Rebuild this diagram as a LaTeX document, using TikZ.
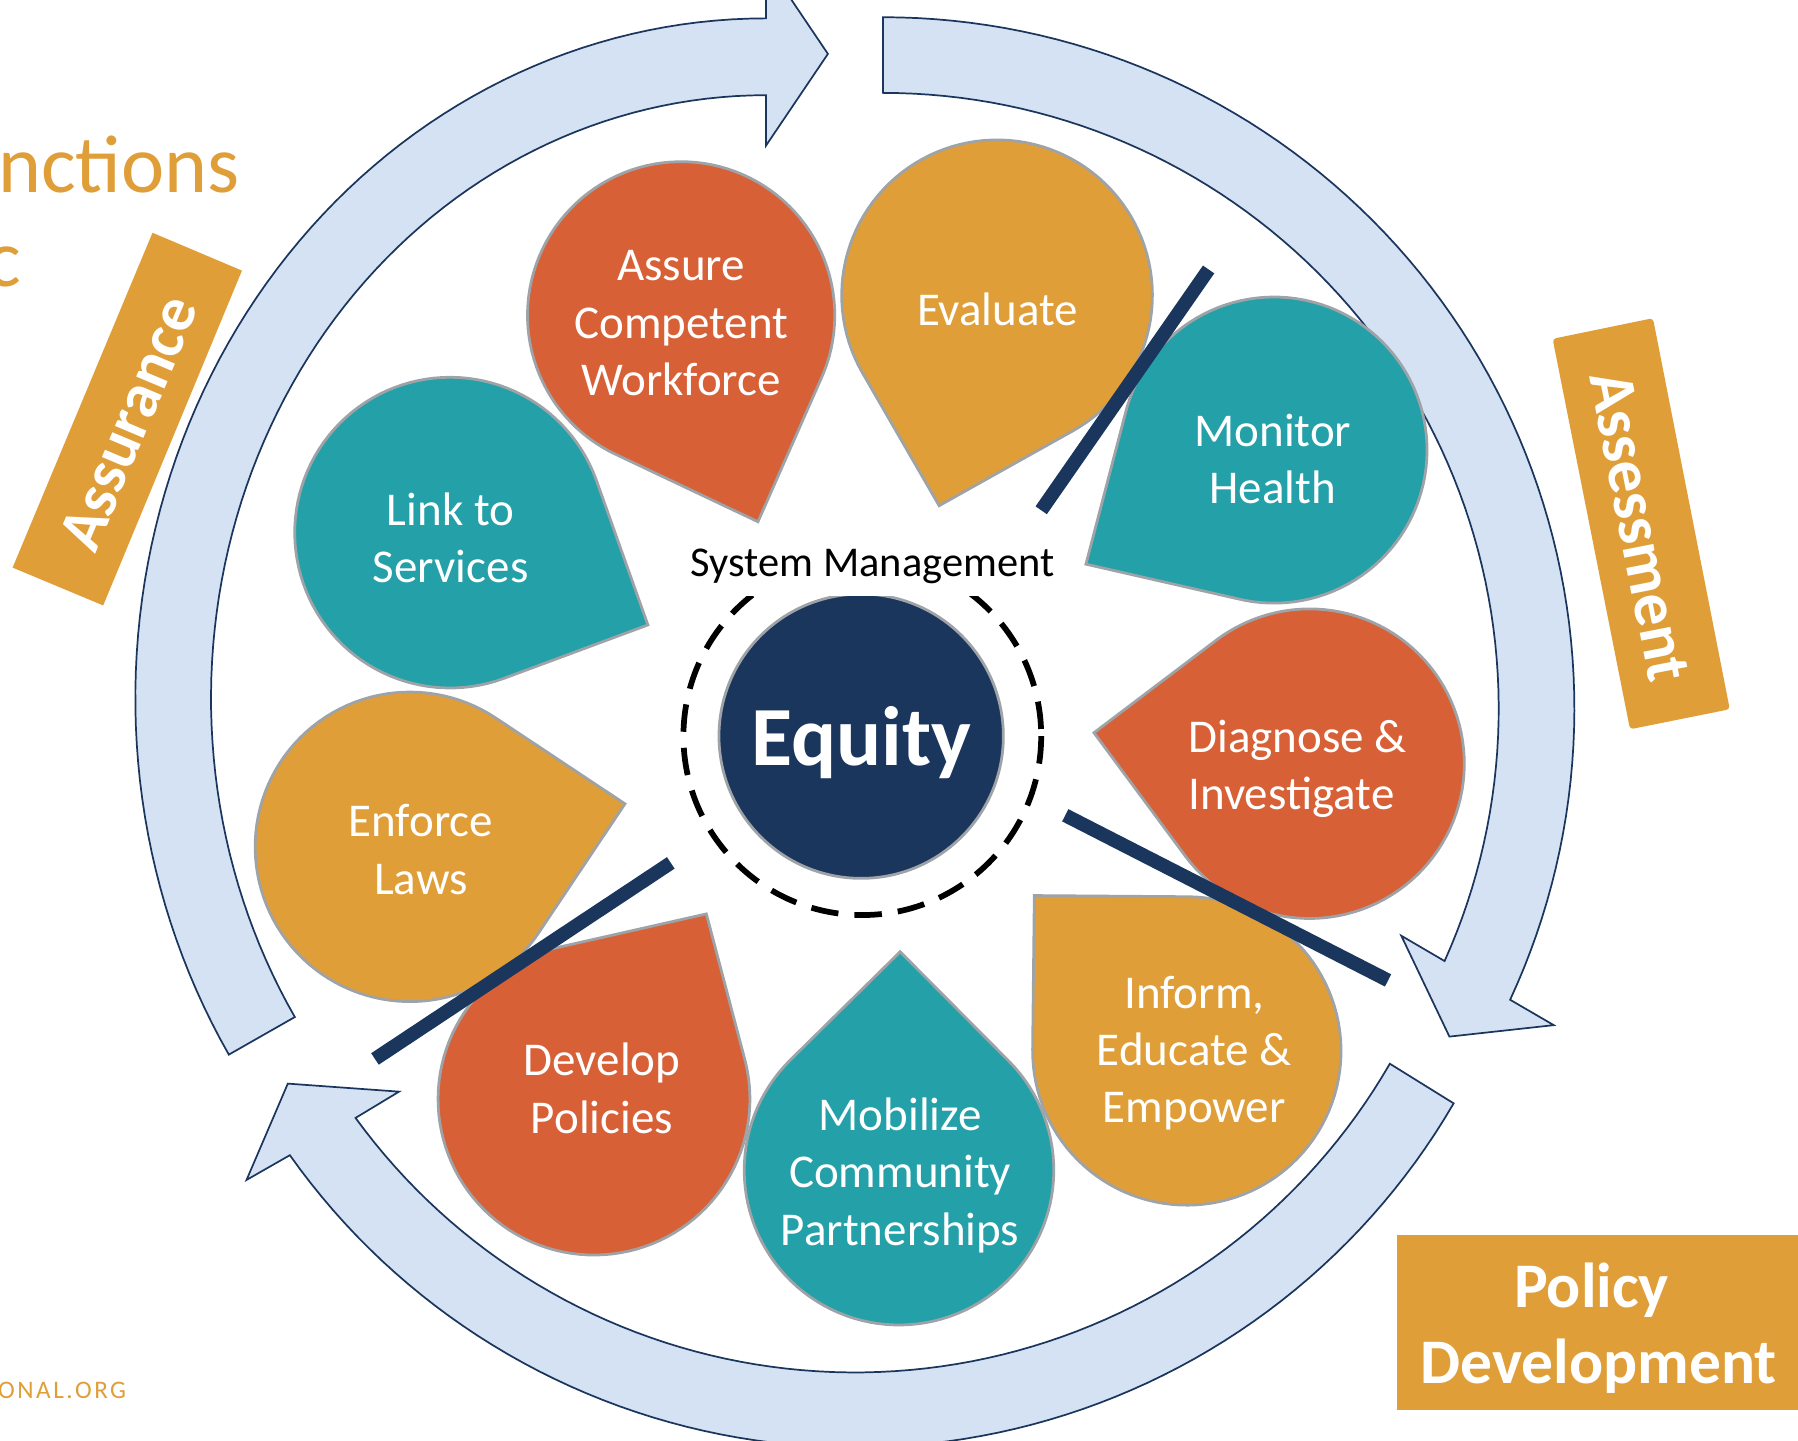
\documentclass[tikz,border=0pt]{standalone}
\usepackage{fontspec}
\setmainfont{Carlito}
\definecolor{orangeC}{HTML}{E09E38}
\definecolor{tealC}{HTML}{24A0A8}
\definecolor{redC}{HTML}{D86037}
\definecolor{navyC}{HTML}{1B365D}
\definecolor{ringC}{HTML}{D5E2F3}
\definecolor{edgeC}{HTML}{9EA3A8}
\tikzset{
  ringshape/.style={fill=ringC,draw=navyC,line width=0.75pt,line join=miter},
  dropshape/.style={draw=edgeC,line width=1.2pt,line join=miter},
  droplabel/.style={text=white,align=center,inner sep=0pt,font=\fontsize{20.5}{25}\selectfont},
  tagbox/.style={fill=orangeC,draw=none},
  taglabel/.style={text=white,align=center,inner sep=0pt,font=\fontsize{27.7}{33}\selectfont\bfseries},
  divider/.style={draw=navyC,line width=6pt,line cap=butt},
}
\newcommand{\teardrop}[6]{%
  \pgfmathsetmacro{\tdA}{atan2(#5-#2,#4-#1)+45}%
  \pgfmathsetmacro{\tdB}{\tdA+270}%
  \filldraw[dropshape,fill=#6] (#4,#5) -- plot[domain=\tdA:\tdB,samples=90,variable=\t]({#1+#3*cos(\t)},{#2+#3*sin(\t)}) -- cycle;%
}
\begin{document}
\begin{tikzpicture}[x=0.5pt,y=-0.5pt]
\clip (0,0) rectangle (1568,1256);
\fill[white] (0,0) rectangle (1568,1256);

% title pieces and footer cut off by the crop
\node[anchor=base west,inner sep=0pt,text=orangeC,font=\fontsize{35.7}{40}\selectfont] (title1) at (-2,168) {nctions};
\node[anchor=base west,inner sep=0pt,text=orangeC,font=\fontsize{35.7}{40}\selectfont] (title2) at (-12,250) {c};
\node[anchor=base west,inner sep=0pt,text=orangeC,font=\fontsize{11}{12}\selectfont\addfontfeature{LetterSpace=10}] (footer) at (-2,1220) {ONAL.ORG};

% ring arrows
\path[ringshape] plot[domain=-90:24.9,samples=80,variable=\t]({770+603*cos(\t)},{618+603*sin(\t)})
  -- (1355,894) -- (1264,904) -- (1222,816)
  -- plot[domain=24.2:-90,samples=80,variable=\t]({770+537*cos(\t)},{618+537*sin(\t)}) -- cycle;
\path[ringshape] plot[domain=148.4:270,samples=80,variable=\t]({668+550*cos(\t)},{609+593*sin(\t)})
  -- (668,-33) -- (722,47) -- (668,127)
  -- plot[domain=270:148.1,samples=80,variable=\t]({668+484*cos(\t)},{609+526*sin(\t)}) -- cycle;
\path[ringshape] plot[domain=30.2:144.7,samples=80,variable=\t]({745.7+604*cos(\t)},{658.4+604*sin(\t)})
  -- (215,1029) -- (251,945) -- (348,952)
  -- plot[domain=144:30,samples=80,variable=\t]({745.7+538.5*cos(\t)},{658.4+538.5*sin(\t)}) -- cycle;

% tags
\fill[tagbox] (133,203) -- (211,236) -- (90,528) -- (11,495) -- cycle;
\node[taglabel,rotate=67.2] (assurance) at (112,369) {Assurance};
\fill[tagbox,rounded corners=1.5pt] (1354,295.5) -- (1441.5,277.5) -- (1508.5,618.5) -- (1421.5,636) -- cycle;
\node[taglabel,rotate=-78.9,font=\fontsize{28}{33}\selectfont\bfseries] (assessment) at (1430,459) {Assessment};
\fill[tagbox] (1218,1077) rectangle (1568,1230);
\node[taglabel] (policy) at (1394,1158) {Policy\hspace*{6pt}\\Development};

% teardrops
\teardrop{594}{275}{134}{661}{455}{redC}
\teardrop{869.5}{257.5}{135.5}{819}{441}{orangeC}
\teardrop{1111}{392.5}{133.5}{947}{492}{tealC}
\teardrop{1142}{666}{135}{954}{639}{redC}
\teardrop{1035}{916.5}{134.5}{902}{781}{orangeC}
\teardrop{784}{1020.5}{135}{785}{830}{tealC}
\teardrop{518}{958.5}{136}{616}{797}{redC}
\teardrop{357.5}{738.5}{135}{545}{701}{orangeC}
\teardrop{392.5}{464.5}{135.5}{565}{545}{tealC}

\node[droplabel] (assure) at (594,282) {Assure\\Competent\\Workforce};
\node[droplabel] (evaluate) at (870,270) {Evaluate};
\node[droplabel] (monitor) at (1110,400.5) {Monitor\\Health};
\node[droplabel,align=left,anchor=west] (diagnose) at (1036,670.5) {Diagnose \&\\Investigate};
\node[droplabel] (inform) at (1041.5,918.5) {Inform,\\Educate \&\\Empower};
\node[droplabel] (mobilize) at (785,1025) {Mobilize\\Community\\Partnerships};
\node[droplabel] (develop) at (525,949) {Develop\\Policies};
\node[droplabel] (enforce) at (367,741) {Enforce\\Laws};
\node[droplabel] (link) at (393,469) {Link to\\Services};

% centre
\filldraw[fill=navyC,draw=edgeC,line width=1.2pt] (751,642) circle[radius=124];
\draw[black,line width=2.5pt,dash pattern=on 12pt off 7pt] (752,642) circle[radius=156];
\fill[white] (590,465) rectangle (930,520);
\node[inner sep=0pt,text=black,font=\fontsize{18.5}{22}\selectfont] (system) at (761,494) {System Management};
\node[inner sep=0pt,text=white,font=\fontsize{36.7}{40}\selectfont\bfseries] (equity) at (751,648) {Equity};

% dividers
\coordinate (d1a) at (1054,235);
\coordinate (d1b) at (908,445);
\coordinate (d2a) at (929,711);
\coordinate (d2b) at (1210.5,855);
\coordinate (d3a) at (585,752.5);
\coordinate (d3b) at (327,923.5);
\draw[divider] (d1a) -- (d1b);
\draw[divider] (d2a) -- (d2b);
\draw[divider] (d3a) -- (d3b);
\end{tikzpicture}
\end{document}
